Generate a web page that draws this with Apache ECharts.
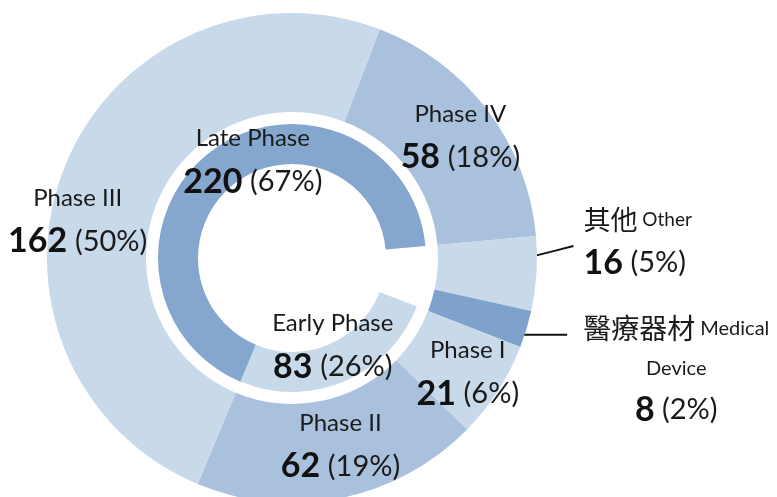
<!DOCTYPE html>
<html>
<head>
<meta charset="utf-8">
<script src="https://cdn.jsdelivr.net/npm/echarts@6/dist/echarts.min.js"></script>
<style>
  html, body { margin: 0; padding: 0; background: #ffffff; }
  #chart { width: 777px; height: 497px; }
</style>
</head>
<body>
<div id="chart"></div>
<script>
// outer ring, clockwise from the Phase III / Phase IV boundary
const outerNames = ['Phase IV', 'Other', 'Medical Device', 'Phase I', 'Phase II', 'Phase III']
const outerCjk = ['', '其他', '醫療器材', '', '', '']
const outerValues = [58, 16, 8, 21, 62, 162]
const outerPct = [18, 5, 2, 6, 19, 50]

// inner ring (first slice is the blank gap under Other + Medical Device)
const innerNames = ['', 'Early Phase', 'Late Phase']
const innerValues = [24, 83, 220]
const innerPct = [0, 26, 67]

// 配色
const outerColors = ['#a9c1dc', '#c8d9ea', '#7fa2cc', '#c8d9ea', '#a9c1dc', '#c8d9ea']
const innerColors = ['rgba(0,0,0,0)', '#c8d9ea', '#85a7ce']

const FONT = 'Lato, "Noto Sans", sans-serif'
const CJK = '"Noto Sans CJK TC", "Noto Sans CJK SC", sans-serif'

const rich = {
  n: { fontFamily: FONT, fontSize: 24, lineHeight: 42, color: '#1a1a1a' },
  v: { fontFamily: FONT, fontSize: 34, fontWeight: 'bold', lineHeight: 44, color: '#111' },
  s: { fontFamily: FONT, fontSize: 30, lineHeight: 44 },
  p: { fontFamily: FONT, fontSize: 29, lineHeight: 44, color: '#1a1a1a' },
  c: { fontFamily: CJK, fontSize: 27, lineHeight: 42, color: '#1a1a1a' },
  e: { fontFamily: FONT, fontSize: 19, lineHeight: 42, color: '#1a1a1a' },
  cc: { fontFamily: CJK, fontSize: 28, lineHeight: 42, color: '#1a1a1a', align: 'center' },
  ec: { fontFamily: FONT, fontSize: 20, lineHeight: 42, color: '#1a1a1a', align: 'center' },
  dc: { fontFamily: FONT, fontSize: 20, lineHeight: 38, color: '#1a1a1a', align: 'center' },
  vc: { fontFamily: FONT, fontSize: 34, fontWeight: 'bold', lineHeight: 44, color: '#111', align: 'center' },
  pc: { fontFamily: FONT, fontSize: 29, lineHeight: 44, color: '#1a1a1a', align: 'center' }
}

// label nudges relative to ECharts' own label position
const outerShift = [[10, -2], [12, -34], [23, 32], [9, 7], [9, -7], [-30, 36]]
const innerShift = [[0, 0], [-5, -20], [30, -3]]

const total = outerValues.reduce((a, b) => a + b, 0)
const outerStart = 69
const innerStart = outerStart - 360 * outerValues[0] / total

const valueText = (v, pct, center) => center
  ? '{vc|' + v + '}{pc| (' + pct + '%)}'
  : '{v|' + v + '}{s| }{p|(' + pct + '%)}'

const outerLabel = (p) => {
  const i = p.dataIndex
  if (i === 2) {
    const parts = outerNames[i].split(' ')
    return '{cc|' + outerCjk[i] + '}{ec| ' + parts[0] + '}\n{dc|' + parts[1] + '}\n' +
      valueText(outerValues[i], outerPct[i], true)
  }
  const head = outerCjk[i] ? '{c|' + outerCjk[i] + '}{e| ' + outerNames[i] + '}' : '{n|' + outerNames[i] + '}'
  return head + '\n' + valueText(outerValues[i], outerPct[i], false)
}

const outerData = outerNames.map((name, i) => {
  const item = { name: name, value: outerValues[i], itemStyle: { color: outerColors[i] } }
  if (outerCjk[i]) {
    item.label = { position: 'outside' }
    item.labelLine = { show: true, length: 30, length2: 0 }
  }
  return item
})

const innerData = innerNames.map((name, i) => ({
  name: name,
  value: innerValues[i],
  itemStyle: { color: innerColors[i] },
  label: { show: i > 0 },
  emphasis: { disabled: true }
}))

const chart = echarts.init(document.getElementById('chart'), null, { renderer: 'canvas' })

chart.setOption({
  backgroundColor: '#ffffff',
  animation: false,
  series: [
    {
      type: 'pie',
      center: [292, 258],
      radius: [146, 245],
      startAngle: outerStart,
      clockwise: true,
      avoidLabelOverlap: false,
      itemStyle: { borderWidth: 0 },
      label: { show: true, position: 'inside', formatter: outerLabel, rich: rich },
      labelLine: { show: false, lineStyle: { color: '#111', width: 2 } },
      labelLayout: function (p) {
        const s = outerShift[p.dataIndex]
        const out = { dx: s[0], dy: s[1] }
        if (outerCjk[p.dataIndex] && p.labelLinePoints) {
          const a = p.labelLinePoints[0]
          const left = p.labelRect.x + s[0]
          const top = p.labelRect.y + s[1]
          // 其他: slanted line pointing up to the label; 醫療器材: flat line to first row
          const start = p.dataIndex === 1 ? [a[0] - 1, a[1] - 18] : [a[0] - 3, top + 20]
          const end = p.dataIndex === 1 ? [left - 10, top + 40] : [left - 16, top + 20]
          out.labelLinePoints = [start, [(start[0] + end[0]) / 2, (start[1] + end[1]) / 2], end]
        }
        return out
      },
      data: outerData
    },
    {
      type: 'pie',
      center: [292, 258],
      radius: [94, 134],
      startAngle: innerStart,
      clockwise: true,
      silent: true,
      avoidLabelOverlap: false,
      itemStyle: { borderWidth: 0 },
      label: {
        show: true,
        position: 'inside',
        rich: rich,
        formatter: (p) => '{n|' + innerNames[p.dataIndex] + '}\n' + valueText(innerValues[p.dataIndex], innerPct[p.dataIndex], false)
      },
      labelLine: { show: false },
      labelLayout: function (p) {
        const s = innerShift[p.dataIndex]
        return { dx: s[0], dy: s[1] }
      },
      data: innerData
    }
  ]
})
</script>
</body>
</html>
